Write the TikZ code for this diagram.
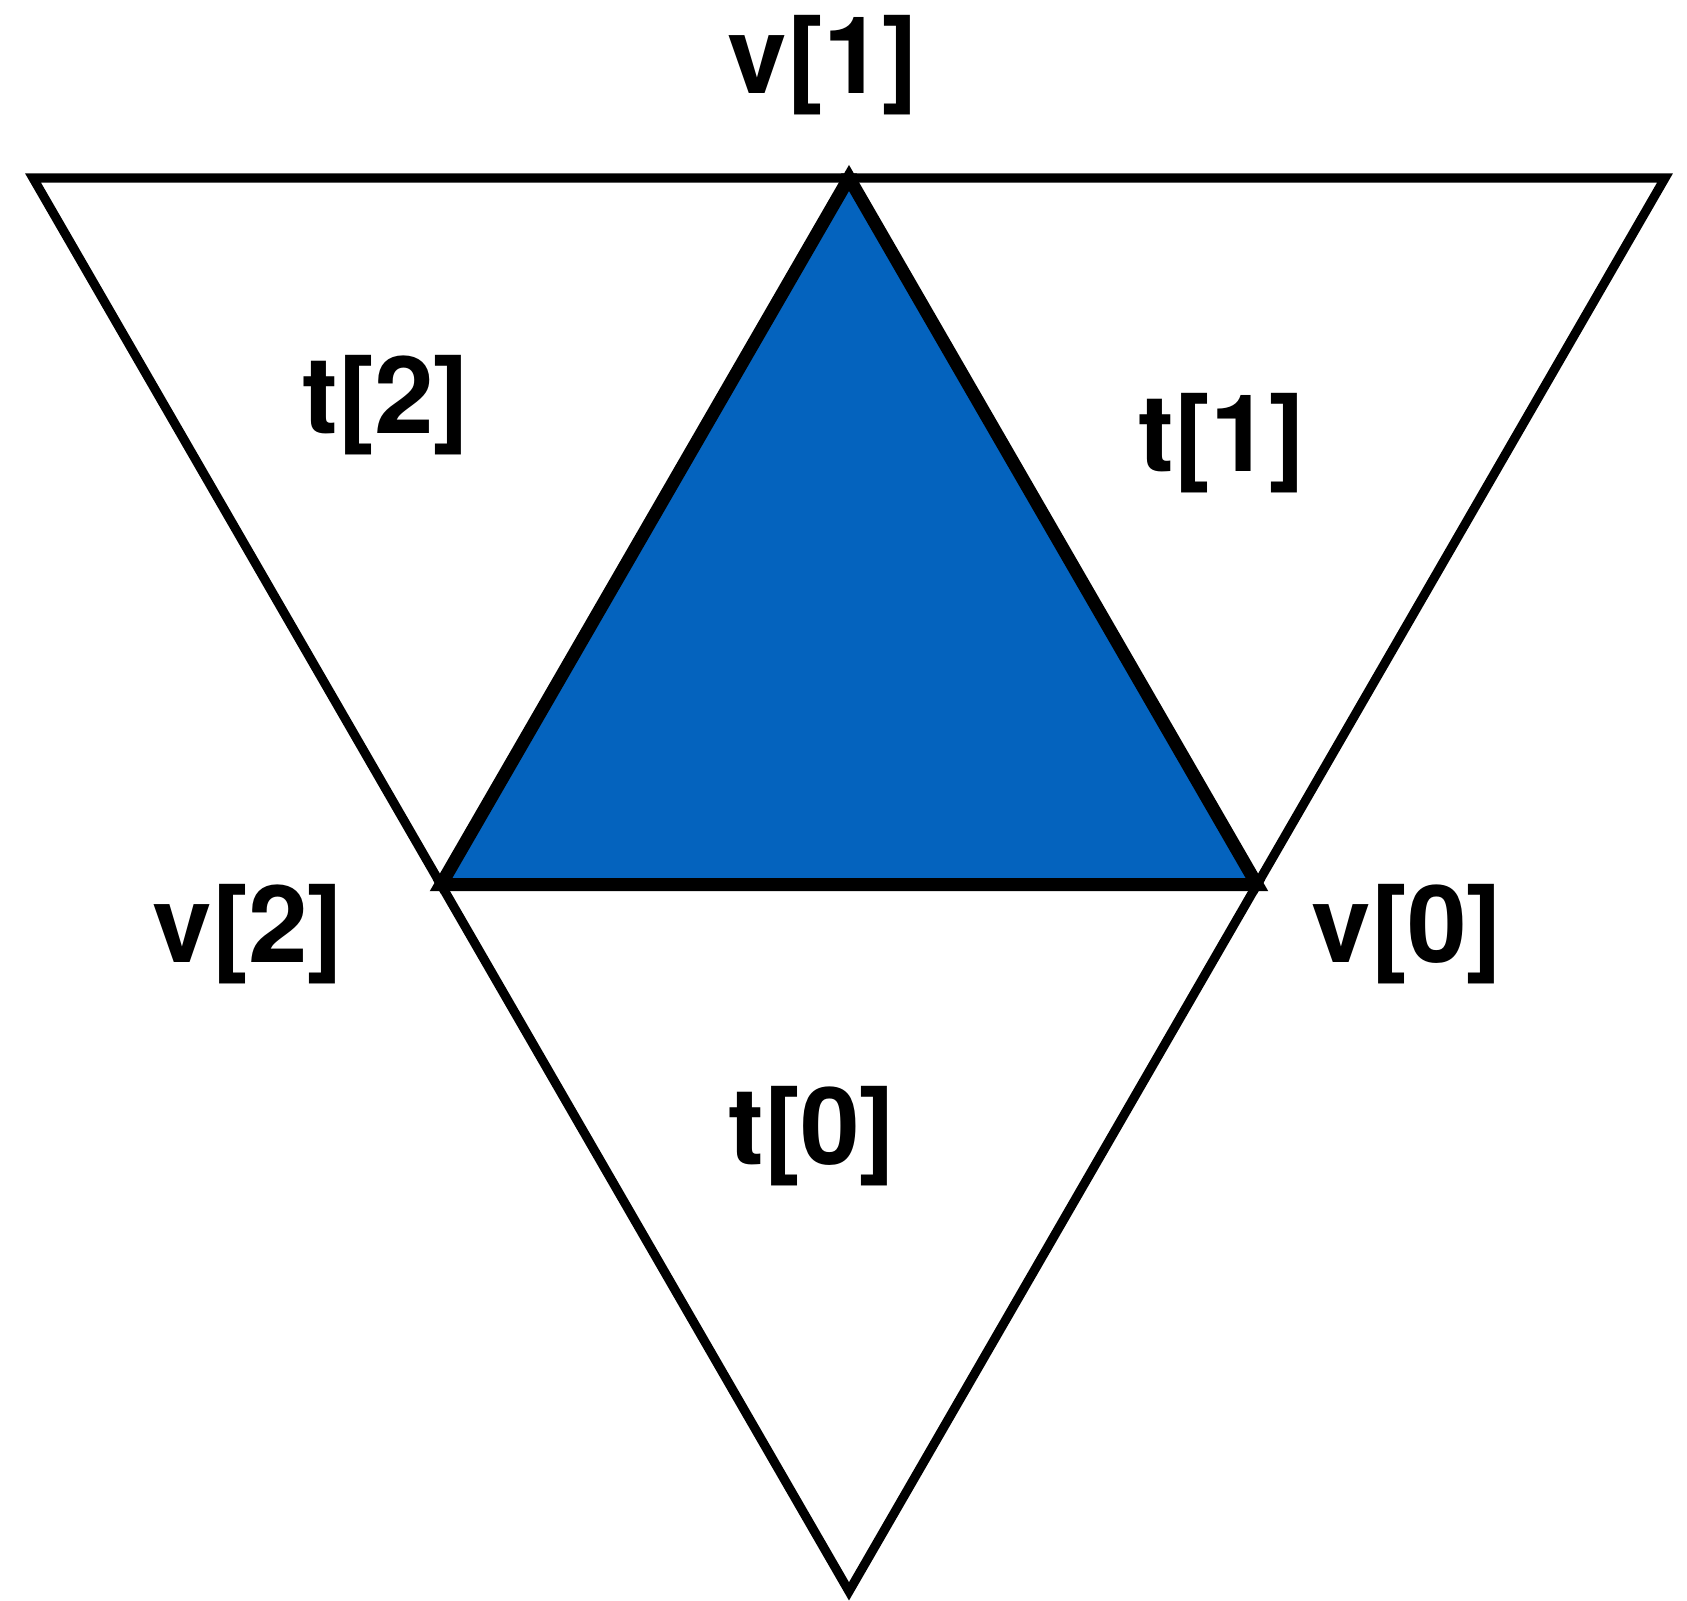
\documentclass[tikz,border=0pt]{standalone}
\usepackage{fontspec}
\setmainfont{TeX Gyre Heros}
\usetikzlibrary{calc}
\definecolor{faceblue}{RGB}{4,99,190}

\tikzset{
  edge/.style={line width=2.6pt, line join=miter},
  faceedge/.style={line width=3.7pt, line join=miter},
  lbl/.style={font=\fontsize{30.5}{31}\selectfont\bfseries, inner sep=0pt}
}

\begin{document}
\begin{tikzpicture}[x=0.01cm,y=-0.01cm]
\useasboundingbox (0,0) rectangle (1687,1601);
\def\side{816}
\pgfmathsetmacro{\tri}{\side*sqrt(3)/2}

\coordinate (v1) at (849,178);
\coordinate (v2) at ($(v1)+(-\side/2,\tri)$);
\coordinate (v0) at ($(v1)+(\side/2,\tri)$);
\coordinate (c2) at ($(v1)+(-\side,0)$);
\coordinate (c1) at ($(v1)+(\side,0)$);
\coordinate (c0) at ($(v2)+(\side/2,\tri)$);

% outer triangles
\draw[edge] (c2) -- (v1) -- (v2) -- cycle;
\draw[edge] (v1) -- (c1) -- (v0) -- cycle;
\draw[edge] (v2) -- (v0) -- (c0) -- cycle;

% shared face
\filldraw[faceedge, fill=faceblue] (v0) -- (v1) -- (v2) -- cycle;

\node[lbl] (l1) at (823,65) {v[1]};
\node[lbl] (l2) at (248,934) {v[2]};
\node[lbl] (l0) at (1407,934) {v[0]};
\node[lbl] (f2) at (386,405) {t[2]};
\node[lbl] (f1) at (1222,443) {t[1]};
\node[lbl] (f0) at (812,1136) {t[0]};
\end{tikzpicture}
\end{document}
